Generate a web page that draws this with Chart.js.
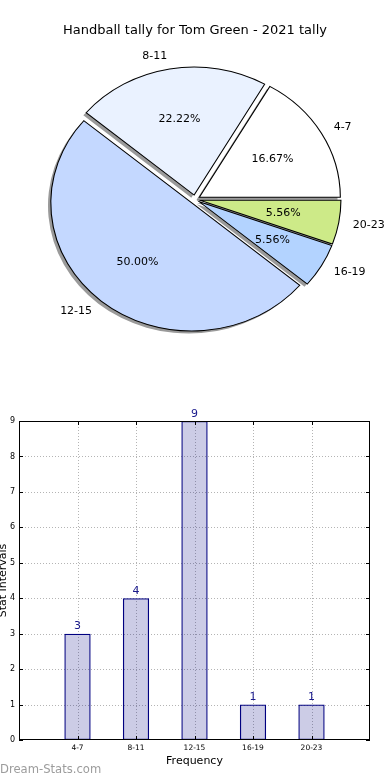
<!DOCTYPE html>
<html>
<head>
<meta charset="utf-8">
<script src="https://cdn.jsdelivr.net/npm/chart.js@4.4.1/dist/chart.umd.min.js"></script>
<style>
  html, body { margin: 0; padding: 0; background: #fff; }
  #wrap { position: relative; width: 390px; height: 780px; overflow: hidden; }
  #pieBox { position: absolute; left: 0; top: 0; width: 390px; height: 380px; }
  #barBox { position: absolute; left: 0; top: 380px; width: 390px; height: 400px; }
</style>
</head>
<body>
<div id="wrap">
  <div id="pieBox"><canvas id="pie" width="390" height="380"></canvas></div>
  <div id="barBox"><canvas id="bar" width="390" height="400"></canvas></div>
</div>
<script>
// ---- data ----
const categories = ['4-7', '8-11', '12-15', '16-19', '20-23'];
const values = [3, 4, 9, 1, 1];
const sliceColors = ['#ffffff', '#eaf2ff', '#c4d8ff', '#b3d3ff', '#cdea88'];
const yTicks = [0, 1, 2, 3, 4, 5, 6, 7, 8, 9];
const pieTitle = 'Handball tally for Tom Green - 2021 tally';
const yTitle = 'Stat Intervals';
const xTitle = 'Frequency';
const watermark = 'Dream-Stats.com';

Chart.defaults.font.family = "'DejaVu Sans', sans-serif";
Chart.defaults.color = '#000';

// ---- pie ----
const RX = 141;          // horizontal radius
const KY = 128 / 141;    // vertical squash (matplotlib non-equal axes)
const EXPLODE = 5;
const total = values.reduce((a, b) => a + b, 0);

// Chart.js draws clockwise; matplotlib counter-clockwise from east -> reverse
const pieLabels = categories.slice().reverse();
const pieValues = values.slice().reverse();
const pieColors = sliceColors.slice().reverse();

const pieFx = {
  id: 'pieFx',
  beforeDatasetDraw(chart) {
    const ctx = chart.ctx;
    const arcs = chart.getDatasetMeta(0).data;
    const cx = arcs[0].x, cy = arcs[0].y;
    ctx.save();
    ctx.translate(cx, cy); ctx.scale(1, KY); ctx.translate(-cx, -cy);
    // shadows beneath everything
    arcs.forEach(a => {
      const mid = (a.startAngle + a.endAngle) / 2;
      const ox = Math.cos(mid) * EXPLODE - 2.8;
      const oy = Math.sin(mid) * EXPLODE + 2.6 / KY;
      ctx.beginPath();
      ctx.moveTo(a.x + ox, a.y + oy);
      ctx.arc(a.x + ox, a.y + oy, a.outerRadius, a.startAngle, a.endAngle);
      ctx.closePath();
      ctx.fillStyle = '#9a9a9a';
      ctx.fill();
    });
    arcs.forEach(a => {
      const mid = (a.startAngle + a.endAngle) / 2;
      ctx.save();
      ctx.translate(Math.cos(mid) * EXPLODE, Math.sin(mid) * EXPLODE);
      a.draw(ctx);
      ctx.restore();
    });
    ctx.restore();
    return false;
  },
  afterDraw(chart) {
    const ctx = chart.ctx;
    const arcs = chart.getDatasetMeta(0).data;
    ctx.save();
    ctx.font = "11px 'DejaVu Sans'";
    ctx.fillStyle = '#000';
    ctx.textBaseline = 'middle';
    arcs.forEach((a, i) => {
      const mid = (a.startAngle + a.endAngle) / 2;
      const c = Math.cos(mid), s = Math.sin(mid);
      const dp = 0.6 * RX + EXPLODE;
      ctx.textAlign = 'center';
      ctx.fillText((pieValues[i] / total * 100).toFixed(2) + '%', a.x + c * dp, a.y + s * dp * KY);
      const dl = 1.1 * RX + EXPLODE;
      ctx.textAlign = c > 0 ? 'left' : 'right';
      ctx.fillText(pieLabels[i], a.x + c * dl, a.y + s * dl * KY);
    });
    ctx.restore();
  }
};

new Chart(document.getElementById('pie'), {
  type: 'pie',
  data: {
    labels: pieLabels,
    datasets: [{
      data: pieValues,
      backgroundColor: pieColors,
      borderColor: '#000',
      borderWidth: 1.1,
      borderJoinStyle: 'miter',
      offset: 0
    }]
  },
  options: {
    responsive: false,
    animation: false,
    rotation: 90,
    radius: RX,
    layout: { padding: { top: 0, bottom: 21.6, left: 0, right: 0 } },
    plugins: {
      legend: { display: false },
      tooltip: { enabled: false },
      title: {
        display: true,
        text: pieTitle,
        color: '#000',
        font: { size: 13, weight: 'normal' },
        padding: { top: 23, bottom: 2 }
      }
    }
  },
  plugins: [pieFx]
});

// ---- bar ----
const barFx = {
  id: 'barFx',
  beforeDatasetsDraw(chart) {
    const ctx = chart.ctx;
    const { left, right, top, bottom } = chart.chartArea;
    const xs = chart.scales.x, ys = chart.scales.y;
    ctx.save();
    ctx.strokeStyle = '#b4b4b4';
    ctx.lineWidth = 1;
    ctx.setLineDash([1, 2]);
    yTicks.forEach(v => {
      if (v === yTicks[0] || v === yTicks[yTicks.length - 1]) return;
      const y = Math.round(ys.getPixelForValue(v)) + 0.5;
      ctx.beginPath(); ctx.moveTo(left, y); ctx.lineTo(right, y); ctx.stroke();
    });
    categories.forEach((c, i) => {
      const x = Math.round(xs.getPixelForValue(i)) + 0.5;
      ctx.beginPath(); ctx.moveTo(x, top); ctx.lineTo(x, bottom); ctx.stroke();
    });
    ctx.restore();
  },
  afterDatasetsDraw(chart) {
    const ctx = chart.ctx;
    ctx.save();
    // value labels
    ctx.font = "11px 'DejaVu Sans'";
    ctx.fillStyle = '#1a1a8c';
    ctx.textAlign = 'center';
    ctx.textBaseline = 'alphabetic';
    chart.getDatasetMeta(0).data.forEach((b, i) => {
      ctx.fillText(String(values[i]), b.x, b.y - 4.5);
    });
    ctx.restore();
  },
  afterDraw(chart) {
    const ctx = chart.ctx;
    const { left, right, top, bottom } = chart.chartArea;
    const xs = chart.scales.x, ys = chart.scales.y;
    ctx.save();
    ctx.strokeStyle = '#000';
    ctx.lineWidth = 1;
    // tick marks (inside)
    yTicks.forEach(v => {
      const y = Math.round(ys.getPixelForValue(v)) + 0.5;
      ctx.beginPath();
      ctx.moveTo(left, y); ctx.lineTo(left + 4, y);
      ctx.moveTo(right, y); ctx.lineTo(right - 4, y);
      ctx.stroke();
    });
    categories.forEach((c, i) => {
      const x = Math.round(xs.getPixelForValue(i)) + 0.5;
      ctx.beginPath();
      ctx.moveTo(x, bottom); ctx.lineTo(x, bottom - 4);
      ctx.moveTo(x, top); ctx.lineTo(x, top + 4);
      ctx.stroke();
    });
    ctx.strokeRect(Math.round(left) + 0.5, Math.round(top) + 0.5, Math.round(right - left) - 1, Math.round(bottom - top) - 1);
    // watermark
    ctx.font = "11.6px 'DejaVu Sans'";
    ctx.fillStyle = '#9c9c9c';
    ctx.textAlign = 'left';
    ctx.textBaseline = 'middle';
    ctx.fillText(watermark, 0, 390);
    ctx.restore();
  }
};

new Chart(document.getElementById('bar'), {
  type: 'bar',
  data: {
    datasets: [{
      data: categories.map((c, i) => ({ x: i, y: values[i] })),
      backgroundColor: 'rgba(0, 0, 128, 0.2)',
      borderColor: '#000080',
      borderWidth: 1.3,
      borderSkipped: false,
      barPercentage: 0.45,
      categoryPercentage: 1
    }]
  },
  options: {
    responsive: false,
    animation: false,
    layout: { padding: { top: 41, right: 20, left: 0, bottom: 0 } },
    plugins: { legend: { display: false }, tooltip: { enabled: false } },
    scales: {
      x: {
        type: 'linear',
        min: -1,
        max: 5,
        offset: false,
        grid: { display: false, drawTicks: false },
        border: { display: false },
        ticks: {
          stepSize: 1,
          autoSkip: false,
          maxRotation: 0,
          padding: 3.5,
          color: '#000',
          font: { size: 7.5 },
          callback: v => (categories[v] !== undefined ? categories[v] : '')
        },
        title: {
          display: true,
          text: xTitle,
          color: '#000',
          font: { size: 11 },
          padding: { top: 0, bottom: 12.4 }
        },
        afterFit: s => { s.height = 40; }
      },
      y: {
        min: yTicks[0],
        max: yTicks[yTicks.length - 1],
        grid: { display: false, drawTicks: false },
        border: { display: false },
        ticks: { stepSize: 1, padding: 4, color: '#000', font: { size: 8 } },
        title: {
          display: true,
          text: yTitle,
          color: '#000',
          font: { size: 11, lineHeight: 0.6 },
          padding: 0
        },
        afterFit: s => { s.width = 19; }
      }
    }
  },
  plugins: [barFx]
});
</script>
</body>
</html>
